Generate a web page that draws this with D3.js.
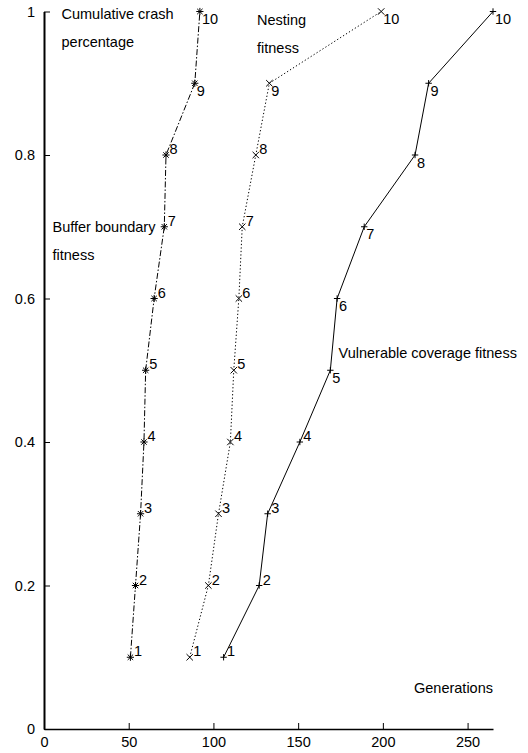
<!DOCTYPE html>
<html>
<head>
<meta charset="utf-8">
<script src="https://cdn.jsdelivr.net/npm/d3@7"></script>
<style>
  html, body { margin: 0; padding: 0; background: #fff; }
  svg { display: block; }
  text { font-family: "Liberation Sans", Arial, Helvetica, sans-serif; fill: #000; }
</style>
</head>
<body>
<svg id="chart" width="528" height="753"></svg>
<script>
// ---- data ----
const cumulativeCrash = [0.1, 0.2, 0.3, 0.4, 0.5, 0.6, 0.7, 0.8, 0.9, 1.0];
const pointLabels = ["1", "2", "3", "4", "5", "6", "7", "8", "9", "10"];
const bufferBoundary = [51, 54, 57, 59, 60, 65, 71, 72, 89, 92];
const nesting = [86, 97, 103, 110, 112, 115, 117, 125, 133, 199];
const vulnerableCoverage = [106, 127, 132, 151, 169, 173, 189, 219, 227, 265];
const xTicks = [0, 50, 100, 150, 200, 250];
const yTicks = [0, 0.2, 0.4, 0.6, 0.8, 1];
// which point labels sit below-right of their point (others sit above-right)
const belowLabels = {
  buffer: [9, 10],
  nesting: [9, 10],
  vulnerable: [5, 6, 7, 8, 9, 10]
};

// ---- layout ----
const mLeft = 44, mRight = 493, mTop = 11.5, mBottom = 729;
const fontSize = 14.5;

const svg = d3.select("#chart");
const x = d3.scaleLinear().domain([0, 265]).range([mLeft, mRight]);
const y = d3.scaleLinear().domain([0, 1]).range([mBottom, mTop]);

// axes
const gx = svg.append("g").attr("transform", `translate(0,${mBottom})`)
  .call(d3.axisBottom(x).tickValues(xTicks).tickFormat(d3.format("d"))
    .tickSizeInner(-6).tickSizeOuter(0).tickPadding(8));
gx.select(".domain").attr("stroke", "#000").attr("stroke-width", 1.4);
gx.selectAll(".tick line").attr("stroke", "#000").attr("stroke-width", 1);
gx.selectAll(".tick text").attr("font-size", fontSize).attr("font-family", null);

const gy = svg.append("g").attr("transform", `translate(${mLeft},0)`)
  .call(d3.axisLeft(y).tickValues(yTicks).tickFormat(d => String(+d.toFixed(1)))
    .tickSizeInner(-6).tickSizeOuter(0).tickPadding(9));
gy.select(".domain").attr("stroke", "#000").attr("stroke-width", 2);
gy.selectAll(".tick line").attr("stroke", "#000").attr("stroke-width", 1);
gy.selectAll(".tick text").attr("font-size", fontSize).attr("font-family", null);

// series
const series = [
  { key: "buffer", xs: bufferBoundary, dash: "6,2,1.5,2", marker: "star" },
  { key: "nesting", xs: nesting, dash: "1.3,2.2", marker: "cross" },
  { key: "vulnerable", xs: vulnerableCoverage, dash: null, marker: "plus" }
];

const line = d3.line().x(d => x(d[0])).y(d => y(d[1]));

function markerPath(type, s) {
  const plus = `M${-s},0H${s}M0,${-s}V${s}`;
  const cross = `M${-s},${-s}L${s},${s}M${-s},${s}L${s},${-s}`;
  if (type === "plus") return plus;
  if (type === "cross") return cross;
  return plus + `M${-s*0.75},${-s*0.75}L${s*0.75},${s*0.75}M${-s*0.75},${s*0.75}L${s*0.75},${-s*0.75}`;
}

series.forEach(s => {
  const pts = s.xs.map((v, i) => [v, cumulativeCrash[i], pointLabels[i]]);
  const p = svg.append("path").datum(pts)
    .attr("fill", "none").attr("stroke", "#000").attr("stroke-width", 1)
    .attr("d", line);
  if (s.dash) p.attr("stroke-dasharray", s.dash);

  svg.append("g").selectAll("path").data(pts).join("path")
    .attr("transform", d => `translate(${x(d[0])},${y(d[1])})`)
    .attr("d", markerPath(s.marker, s.marker === "star" ? 3.6 : 3.2))
    .attr("stroke", "#000").attr("stroke-width", 1)
    .attr("fill", "none");

  const below = belowLabels[s.key];
  svg.append("g").selectAll("text").data(pts).join("text")
    .attr("x", d => x(d[0]) + (below.includes(+d[2]) ? 2 : 3.5))
    .attr("y", d => y(d[1]) + (below.includes(+d[2]) ? 12.5 : -1))
    .attr("font-size", fontSize)
    .text(d => d[2]);
});

// annotations
const notes = [
  { lines: ["Cumulative crash", "percentage"], x: 61.5, y: 18.5 },
  { lines: ["Nesting", "fitness"], x: 257, y: 25 },
  { lines: ["Buffer boundary", "fitness"], x: 52.5, y: 232 },
  { lines: ["Vulnerable coverage fitness"], x: 338.5, y: 358 },
  { lines: ["Generations"], x: 414, y: 693 }
];
notes.forEach(n => {
  n.lines.forEach((t, i) => {
    svg.append("text").attr("x", n.x).attr("y", n.y + i * 28)
      .attr("font-size", fontSize).text(t);
  });
});
</script>
</body>
</html>
